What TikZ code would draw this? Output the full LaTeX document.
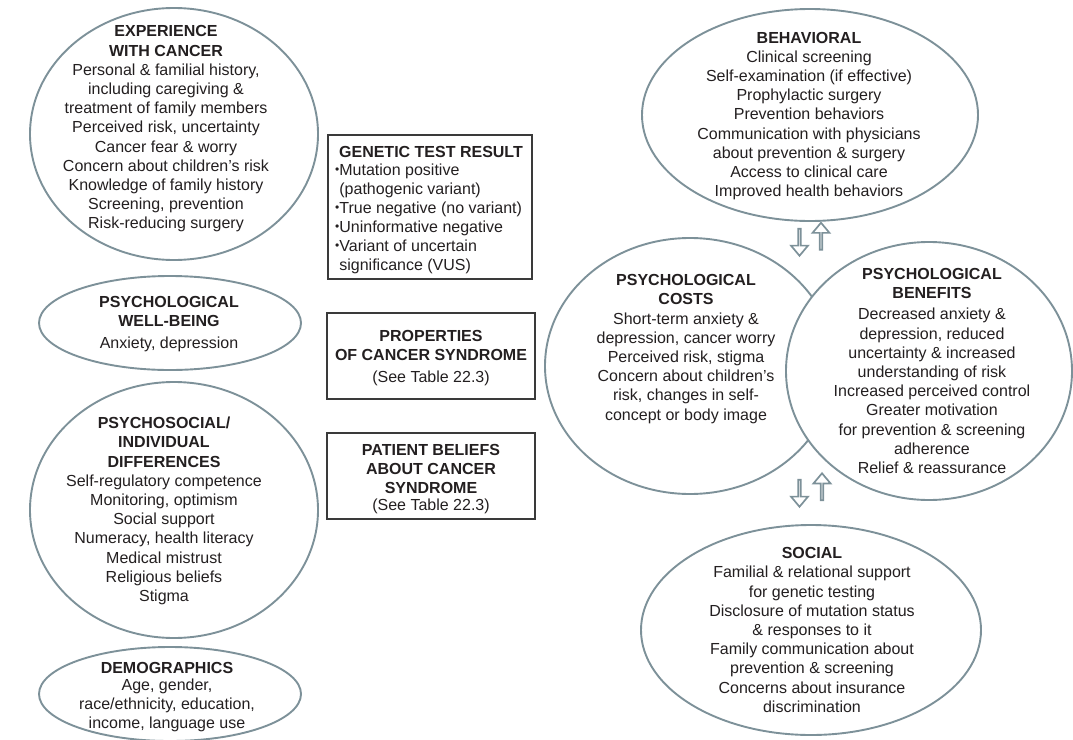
\documentclass[tikz,border=0pt]{standalone}
\usepackage{fontspec}
\setmainfont{Liberation Sans}
\usetikzlibrary{shapes.geometric,shapes.arrows}
\definecolor{ellgray}{HTML}{7D9199}
\definecolor{txt}{HTML}{231F20}
\definecolor{boxline}{HTML}{3A3A3A}
\tikzset{
  ell/.style={ellipse, draw=ellgray, line width=1.9pt, fill=white, inner sep=0pt},
  boxnode/.style={rectangle, draw=boxline, line width=1.1pt, inner sep=0pt},
  lbl/.style={text=txt, align=center, inner sep=0pt, font=\fontsize{16}{19.2}\selectfont},
  lbll/.style={text=txt, align=left, inner sep=0pt, font=\fontsize{16}{19}\selectfont},
  harrow/.style={single arrow, draw=ellgray, line width=1.7pt, fill=white, inner sep=0pt,
    minimum height=27pt, minimum width=17pt, single arrow head extend=5pt,
    single arrow tip angle=80},
}
\newcommand{\gbul}{\raisebox{1.8pt}{\fontsize{12}{12}\selectfont •}}
\newcommand{\gind}{\hphantom{\gbul}}
\begin{document}
\begin{tikzpicture}[x=1pt,y=-1pt]
\useasboundingbox (0,0) rectangle (1073,739);
% left ellipses
\node[ell, minimum width=288pt, minimum height=252pt] (exp) at (174,134) {};
\node[lbl] (exptxt) at (166,129) {\textbf{EXPERIENCE}\\\textbf{WITH CANCER}\\Personal \& familial history,\\including caregiving \&\\treatment of family members\\Perceived risk, uncertainty\\Cancer fear \& worry\\Concern about children’s risk\\Knowledge of family history\\Screening, prevention\\Risk-reducing surgery};

\node[ell, minimum width=262pt, minimum height=94pt] (wb) at (170,323) {};
\node[lbl] (wbtxt) at (169,324) {\textbf{PSYCHOLOGICAL}\\\textbf{WELL-BEING}\\[2pt]Anxiety, depression};

\node[ell, minimum width=288pt, minimum height=256pt] (psy) at (174,510) {};
\node[lbl] (psytxt) at (164,511) {\textbf{PSYCHOSOCIAL/}\\\textbf{INDIVIDUAL}\\\textbf{DIFFERENCES}\\Self-regulatory competence\\Monitoring, optimism\\Social support\\Numeracy, health literacy\\Medical mistrust\\Religious beliefs\\Stigma};

\node[ell, minimum width=262pt, minimum height=94pt] (demo) at (170,694) {};
\node[lbl] (demotxt) at (167,697) {\textbf{DEMOGRAPHICS}\\[-2pt]Age, gender,\\race/ethnicity, education,\\income, language use};

% middle boxes
\node[boxnode, minimum width=204pt, minimum height=144pt] (gen) at (430,207) {};
\node[lbl, font=\bfseries\fontsize{16}{19.2}\selectfont] (gentitle) at (431,152) {GENETIC TEST RESULT};
\node[lbll, anchor=west] (genlist) at (335,219) {\gbul Mutation positive\\\gind(pathogenic variant)\\\gbul True negative (no variant)\\\gbul Uninformative negative\\\gbul Variant of uncertain\\\gind significance (VUS)};

\node[boxnode, minimum width=208pt, minimum height=86pt] (prop) at (431,356) {};
\node[lbl] (proptxt) at (431,358) {\textbf{PROPERTIES}\\\textbf{OF CANCER SYNDROME}\\[2pt](See Table 22.3)};

\node[boxnode, minimum width=208pt, minimum height=86pt] (belief) at (431,476) {};
\node[lbl] (belieftxt) at (431,479) {\textbf{PATIENT BELIEFS}\\\textbf{ABOUT CANCER}\\\textbf{SYNDROME}\\[-2pt](See Table 22.3)};

% right ellipses
\node[ell, minimum width=336pt, minimum height=212pt] (beh) at (810,115) {};
\node[lbl] (behtxt) at (809,116) {\textbf{BEHAVIORAL}\\Clinical screening\\Self-examination (if effective)\\Prophylactic surgery\\Prevention behaviors\\Communication with physicians\\about prevention \& surgery\\Access to clinical care\\Improved health behaviors};

\node[ell, minimum width=290pt, minimum height=256pt] (costs) at (690,366) {};
\node[lbl] (coststxt) at (686,349) {\textbf{PSYCHOLOGICAL}\\\textbf{COSTS}\\Short-term anxiety \&\\depression, cancer worry\\Perceived risk, stigma\\Concern about children’s\\risk, changes in self-\\concept or body image};

\node[ell, minimum width=286pt, minimum height=258pt] (ben) at (929,371) {};
\node[lbl] (bentxt) at (932,371) {\textbf{PSYCHOLOGICAL}\\\textbf{BENEFITS}\\[2pt]Decreased anxiety \&\\depression, reduced\\uncertainty \& increased\\understanding of risk\\Increased perceived control\\Greater motivation\\for prevention \& screening\\adherence\\Relief \& reassurance};

\node[ell, minimum width=340pt, minimum height=210pt] (social) at (811,630) {};
\node[lbl] (socialtxt) at (812,630) {\textbf{SOCIAL}\\Familial \& relational support\\for genetic testing\\Disclosure of mutation status\\\& responses to it\\Family communication about\\prevention \& screening\\Concerns about insurance\\discrimination};

% hollow arrows
\node[harrow, shape border rotate=270] (a1) at (799.5,241.5) {};
\node[harrow, shape border rotate=90] (a2) at (821,237) {};
\node[harrow, shape border rotate=270] (a3) at (799.5,492.5) {};
\node[harrow, shape border rotate=90] (a4) at (822,487.5) {};
\end{tikzpicture}
\end{document}
